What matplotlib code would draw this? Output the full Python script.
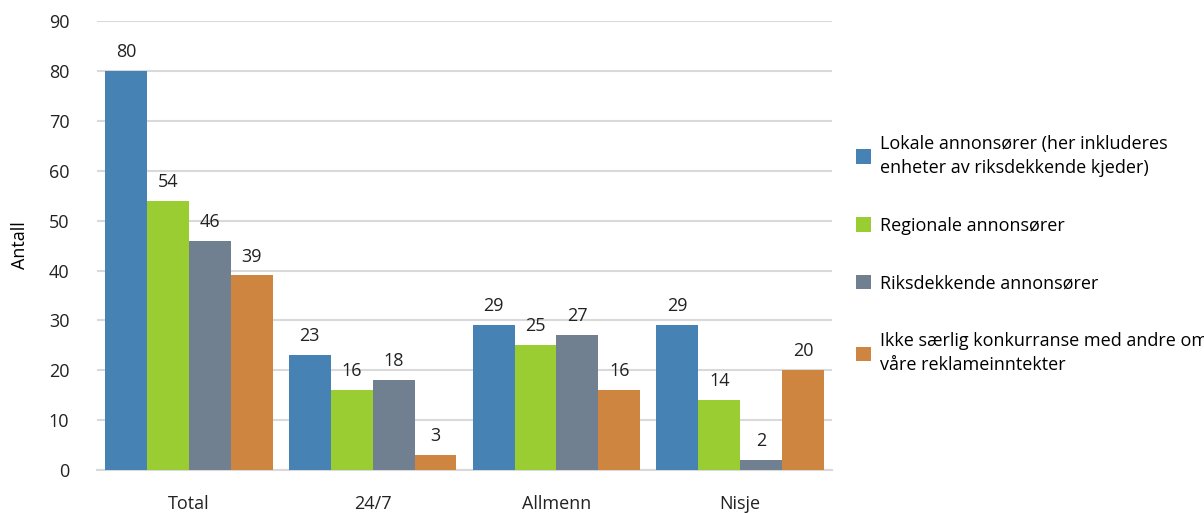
import matplotlib.pyplot as plt
import numpy as np

plt.rcParams['font.family'] = ['Open Sans', 'DejaVu Sans']

categories = ['Total', '24/7', 'Allmenn', 'Nisje']
lokale = [80, 23, 29, 29]
regionale = [54, 16, 25, 14]
riks = [46, 18, 27, 2]
ikke = [39, 3, 16, 20]

series = [
    ('Lokale annonsører (her inkluderes\nenheter av riksdekkende kjeder)', lokale, '#4682B4'),
    ('Regionale annonsører', regionale, '#9ACD32'),
    ('Riksdekkende annonsører', riks, '#708090'),
    ('Ikke særlig konkurranse med andre om\nvåre reklameinntekter', ikke, '#CD853F'),
]

fig = plt.figure(figsize=(12.04, 5.13), dpi=100)
ax = fig.add_axes([0.0806, 0.0838, 0.6105, 0.875])

x = np.arange(len(categories))
w = 0.228
handles = []
for i, (label, vals, color) in enumerate(series):
    pos = x + (i - 1.5) * w
    bars = ax.bar(pos, vals, w, color=color, label=label, zorder=3)
    handles.append(bars)
    for p, v in zip(pos, vals):
        ax.text(p, v + 2, str(v), ha='center', va='bottom', fontsize=13, color='#222222')

ax.set_ylim(0, 90)
ax.set_xlim(-0.5, 3.5)
ax.set_yticks(range(0, 91, 10))
ax.yaxis.grid(True, color='#D9D9D9', linewidth=1.5, zorder=0)
ax.set_axisbelow(True)
for s in ['top', 'right', 'left']:
    ax.spines[s].set_visible(False)
ax.spines['bottom'].set_color('#D9D9D9')
ax.spines['bottom'].set_linewidth(1.5)
ax.set_xticks(x)
ax.set_xticklabels(categories, fontsize=13)
ax.tick_params(axis='both', length=0, labelsize=13, colors='#222222')
ax.tick_params(axis='x', pad=18)
ax.tick_params(axis='y', pad=20)
ax.set_ylabel('Antall', fontsize=13, labelpad=14)

leg = ax.legend(handles=handles, loc='center left', bbox_to_anchor=(1.01, 0.48),
                frameon=False, fontsize=13, handlelength=0.85, handleheight=0.85,
                handletextpad=0.5, labelspacing=2.2)
for t in leg.get_texts():
    t.set_linespacing(1.45)

fig.savefig('out.png', dpi=100)
